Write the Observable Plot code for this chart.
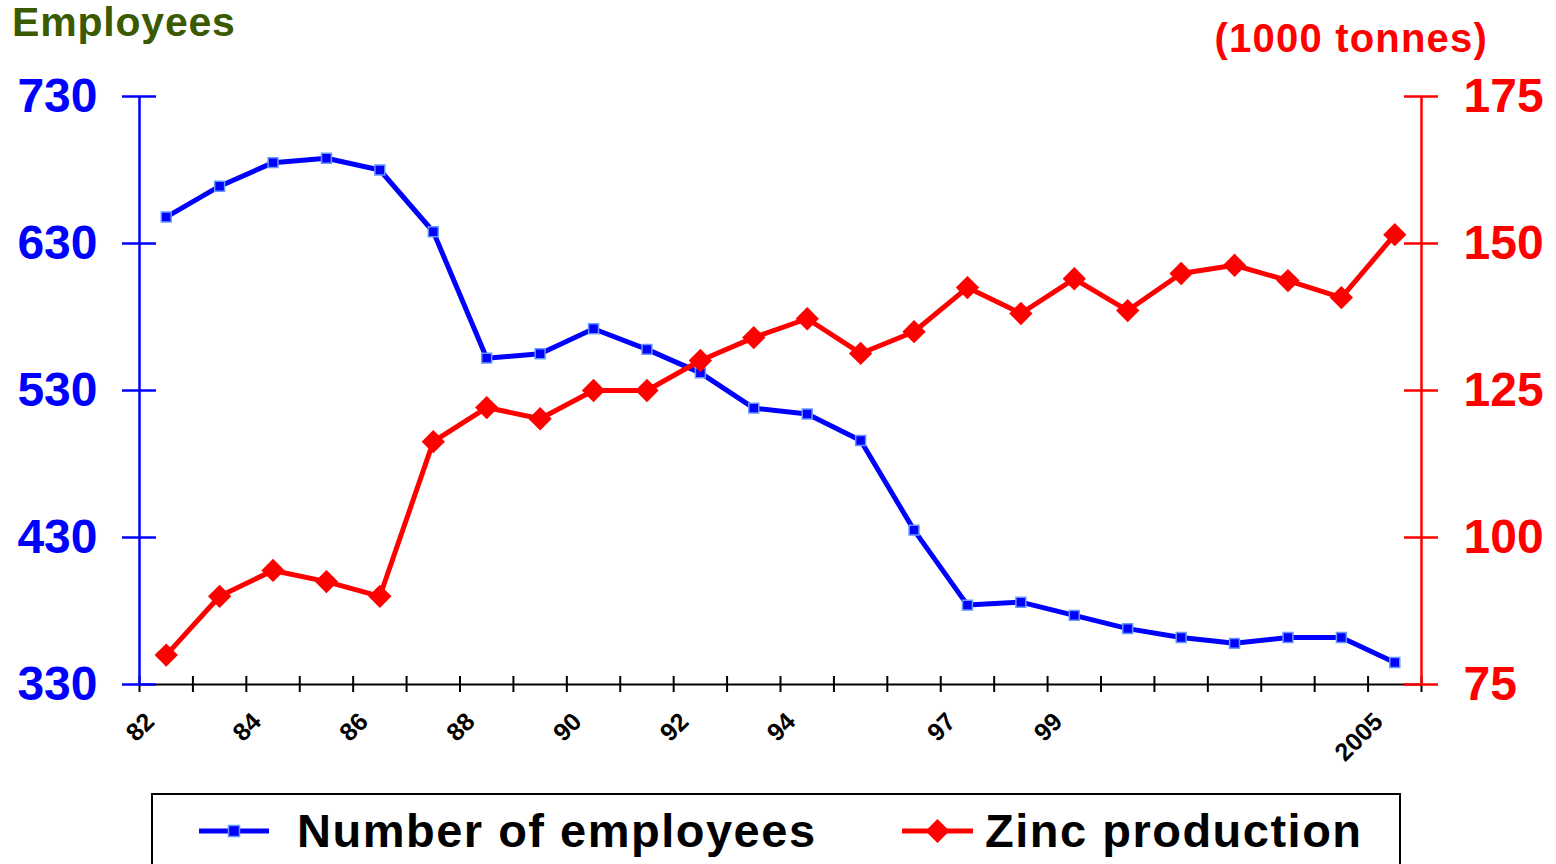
<!DOCTYPE html>
<html>
<head>
<meta charset="utf-8">
<script src="https://cdn.jsdelivr.net/npm/d3@7"></script>
<script src="https://cdn.jsdelivr.net/npm/@observablehq/plot@0.6"></script>
<style>
  html, body { margin: 0; padding: 0; background: #fff; overflow: hidden; }
  body { font-family: "Liberation Sans", Arial, sans-serif; }
  #wrap { position: relative; width: 1556px; height: 864px; }
  #chart { position: absolute; left: 0; top: 0; }
  .title { position: absolute; font-weight: bold; line-height: 1; white-space: nowrap; }
  #t1 { left: 12px; top: 2px; color: #3b5a00; font-size: 41px; letter-spacing: 0.8px; }
  #t2 { right: 68px; top: 18px; color: #ff0000; font-size: 40px; letter-spacing: 1.2px; }
  #legend { position: absolute; left: 0; top: 790px; }
</style>
</head>
<body>
<div id="wrap">
  <div id="chart"></div>
  <div class="title" id="t1">Employees</div>
  <div class="title" id="t2">(1000 tonnes)</div>
  <svg id="legend" width="1556" height="74" xmlns="http://www.w3.org/2000/svg">
    <rect x="152" y="4" width="1248" height="110" fill="none" stroke="#000" stroke-width="2"/>
    <line x1="199" y1="41" x2="269" y2="41" stroke="#0000ff" stroke-width="5"/>
    <rect x="228.5" y="35.5" width="11" height="11" fill="#0000ff" stroke="#6699ff" stroke-width="1.5"/>
    <text x="297" y="57" font-family="Liberation Sans, Arial, sans-serif" font-weight="bold" font-size="47" letter-spacing="1.5" fill="#000">Number of employees</text>
    <line x1="902" y1="41" x2="973" y2="41" stroke="#ff0000" stroke-width="5"/>
    <path d="M937.5,29 L949.5,41 L937.5,53 L925.5,41 Z" fill="#ff0000"/>
    <text x="985" y="57" font-family="Liberation Sans, Arial, sans-serif" font-weight="bold" font-size="47" letter-spacing="1.5" fill="#000">Zinc production</text>
  </svg>
</div>
<script>
// ---- data ----
const years = [1982, 1983, 1984, 1985, 1986, 1987, 1988, 1989, 1990, 1991, 1992, 1993,
               1994, 1995, 1996, 1997, 1998, 1999, 2000, 2001, 2002, 2003, 2004, 2005];
const employees = [648, 669, 685, 688, 680, 638, 552, 555, 572, 558, 542, 518,
                   514, 496, 435, 384, 386, 377, 368, 362, 358, 362, 362, 345];
const zinc = [80, 90, 94.4, 92.5, 90, 116.3, 122.1, 120.2, 125, 125, 130.1, 134,
              137.2, 131.3, 135, 142.5, 138.1, 144, 138.6, 144.9, 146.3, 143.7, 140.8, 151.5];
const leftTicks = [330, 430, 530, 630, 730];
const rightTicks = [75, 100, 125, 150, 175];
const labelYears = [1982, 1984, 1986, 1988, 1990, 1992, 1994, 1997, 1999, 2005];
const labelTexts = ["82", "84", "86", "88", "90", "92", "94", "97", "99", "2005"];

// ---- scales ----
const xDomain = [years[0] - 0.5, years[years.length - 1] + 0.5];
const yDomain = [leftTicks[0], leftTicks[leftTicks.length - 1]];
const rDomain = [rightTicks[0], rightTicks[rightTicks.length - 1]];
// map right-axis (zinc) values onto the left (employees) scale
const toLeft = v => yDomain[0] + (v - rDomain[0]) * (yDomain[1] - yDomain[0]) / (rDomain[1] - rDomain[0]);

const empData = years.map((year, i) => ({year, value: employees[i]}));
const zincData = years.map((year, i) => ({year, value: zinc[i]}));
const bounds = d3.range(years.length + 1).map(i => xDomain[0] + i);
const labels = labelYears.map((year, i) => ({year, text: labelTexts[i]}));

const BLUE = "#0000ff", RED = "#ff0000";
const FONT = "Liberation Sans, Arial, sans-serif";

const chart = Plot.plot({
  width: 1556,
  height: 790,
  marginLeft: 139,
  marginRight: 135,
  marginTop: 96,
  marginBottom: 106,
  x: {domain: xDomain, axis: null},
  y: {domain: yDomain, axis: null},
  style: {fontFamily: FONT, background: "white", overflow: "visible"},
  marks: [
    // x axis line and ticks
    Plot.ruleY([yDomain[0]], {x1: xDomain[0], x2: xDomain[1], stroke: "#000", strokeWidth: 2}),
    Plot.ruleX(bounds, {x: d => d, y1: yDomain[0], y2: yDomain[0], insetTop: -8, insetBottom: -8, stroke: "#000", strokeWidth: 2}),
    // left axis
    Plot.ruleX([xDomain[0]], {y1: yDomain[0], y2: yDomain[1], stroke: BLUE, strokeWidth: 2.5}),
    Plot.ruleY(leftTicks, {y: d => d, x1: xDomain[0], x2: xDomain[0], insetLeft: -17, insetRight: -17, stroke: BLUE, strokeWidth: 2.5}),
    Plot.text(leftTicks, {x: xDomain[0], y: d => d, text: d => String(d), dx: -42, textAnchor: "end",
      fill: BLUE, fontSize: 48, fontWeight: "bold"}),
    // right axis
    Plot.ruleX([xDomain[1]], {y1: yDomain[0], y2: yDomain[1], stroke: RED, strokeWidth: 2.5}),
    Plot.ruleY(rightTicks, {y: d => toLeft(d), x1: xDomain[1], x2: xDomain[1], insetLeft: -17, insetRight: -17, stroke: RED, strokeWidth: 2.5}),
    Plot.text(rightTicks, {x: xDomain[1], y: d => toLeft(d), text: d => String(d), dx: 42, textAnchor: "start",
      fill: RED, fontSize: 48, fontWeight: "bold"}),
    // x tick labels
    Plot.text(labels, {x: "year", y: yDomain[0], text: "text", rotate: -45, textAnchor: "end",
      dx: -16, dy: 33, fill: "#000", fontSize: 25, fontWeight: "bold"}),
    // employees series
    Plot.line(empData, {x: "year", y: "value", stroke: BLUE, strokeWidth: 5, strokeLinejoin: "round"}),
    Plot.dot(empData, {x: "year", y: "value", symbol: "square", r: 5.6, fill: BLUE, stroke: "#6699ff", strokeWidth: 1.5}),
    // zinc series (secondary axis)
    Plot.line(zincData, {x: "year", y: d => toLeft(d.value), stroke: RED, strokeWidth: 5, strokeLinejoin: "round"}),
    Plot.dot(zincData, {x: "year", y: d => toLeft(d.value), symbol: "diamond2", r: 10.5, fill: RED, stroke: "none"})
  ]
});
document.getElementById("chart").appendChild(chart);
</script>
</body>
</html>
